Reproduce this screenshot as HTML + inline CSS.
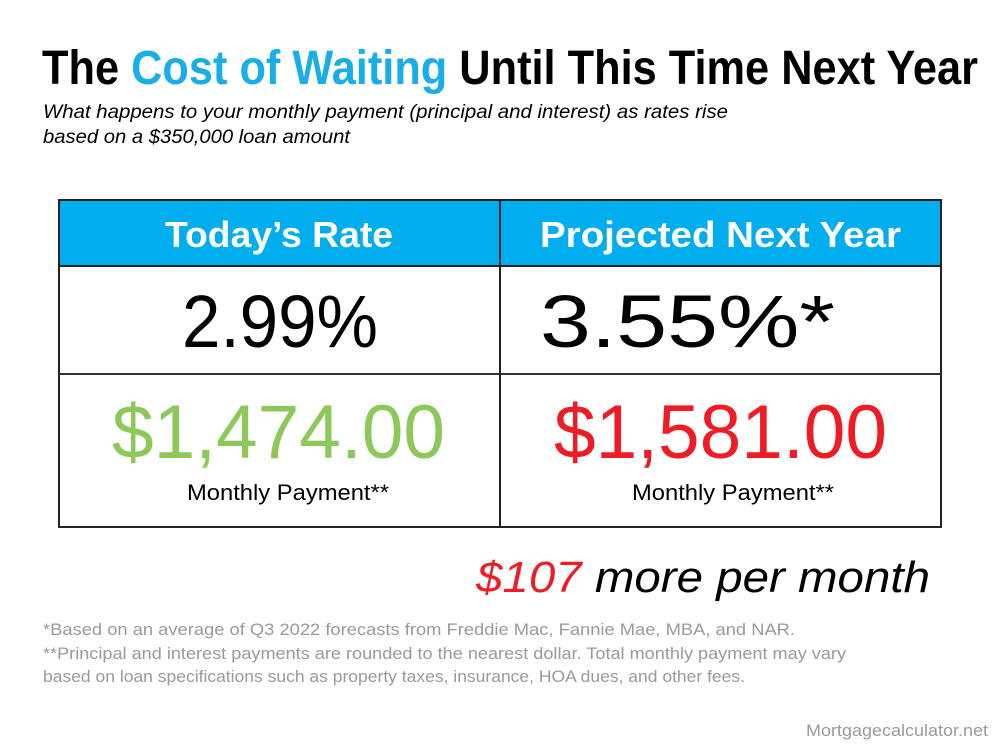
<!DOCTYPE html>
<html><head><meta charset="utf-8"><style>
html,body{margin:0;padding:0;background:#fff;}
svg{display:block;font-family:"Liberation Sans",sans-serif;}
</style></head><body>
<svg width="1000" height="750" viewBox="0 0 1000 750">
<rect width="1000" height="750" fill="#fff"/>
<text x="42" y="84" font-size="48" font-weight="bold" textLength="936" lengthAdjust="spacingAndGlyphs" fill="#000">The <tspan fill="#1aaee9">Cost of Waiting</tspan> Until This Time Next Year</text>
<text x="43" y="118" font-size="19" font-style="italic" textLength="685" lengthAdjust="spacingAndGlyphs">What happens to your monthly payment (principal and interest) as rates rise</text>
<text x="43" y="143" font-size="19" font-style="italic" textLength="307" lengthAdjust="spacingAndGlyphs">based on a $350,000 loan amount</text>
<g>
<rect x="59" y="200" width="882" height="66" fill="#00adef"/>
<rect x="59" y="200" width="882" height="327" fill="none" stroke="#222" stroke-width="2"/>
<line x1="59" y1="266" x2="941" y2="266" stroke="#222" stroke-width="2"/>
<line x1="59" y1="374" x2="941" y2="374" stroke="#333" stroke-width="2"/>
<line x1="500" y1="200" x2="500" y2="527" stroke="#222" stroke-width="2"/>
<text x="165" y="247" font-size="36" font-weight="bold" fill="#fff" textLength="228" lengthAdjust="spacingAndGlyphs">Today’s Rate</text>
<text x="540" y="247" font-size="36" font-weight="bold" fill="#fff" textLength="361" lengthAdjust="spacingAndGlyphs">Projected Next Year</text>
<text x="182" y="347" font-size="74" textLength="196" lengthAdjust="spacingAndGlyphs">2.99%</text>
<text x="540" y="347" font-size="74" textLength="295" lengthAdjust="spacingAndGlyphs">3.55%*</text>
<text x="112" y="458" font-size="76" fill="#8cc95a" textLength="333" lengthAdjust="spacingAndGlyphs">$1,474.00</text>
<text x="554" y="458" font-size="76" fill="#ee1c24" textLength="333" lengthAdjust="spacingAndGlyphs">$1,581.00</text>
<text x="187" y="500" font-size="22" textLength="202" lengthAdjust="spacingAndGlyphs">Monthly Payment**</text>
<text x="632" y="500" font-size="22" textLength="202" lengthAdjust="spacingAndGlyphs">Monthly Payment**</text>
</g>
<text x="476" y="592" font-size="44" font-style="italic" textLength="454" lengthAdjust="spacingAndGlyphs"><tspan fill="#ee1c24">$107</tspan> more per month</text>
<text x="43" y="635" font-size="17" fill="#9a9a9a" textLength="752" lengthAdjust="spacingAndGlyphs">*Based on an average of Q3 2022 forecasts from Freddie Mac, Fannie Mae, MBA, and NAR.</text>
<text x="43" y="659" font-size="17" fill="#9a9a9a" textLength="803" lengthAdjust="spacingAndGlyphs">**Principal and interest payments are rounded to the nearest dollar. Total monthly payment may vary</text>
<text x="43" y="682" font-size="17" fill="#9a9a9a" textLength="702" lengthAdjust="spacingAndGlyphs">based on loan specifications such as property taxes, insurance, HOA dues, and other fees.</text>
<text x="806" y="736" font-size="17" fill="#9a9a9a" textLength="182" lengthAdjust="spacingAndGlyphs">Mortgagecalculator.net</text>
</svg>
</body></html>
